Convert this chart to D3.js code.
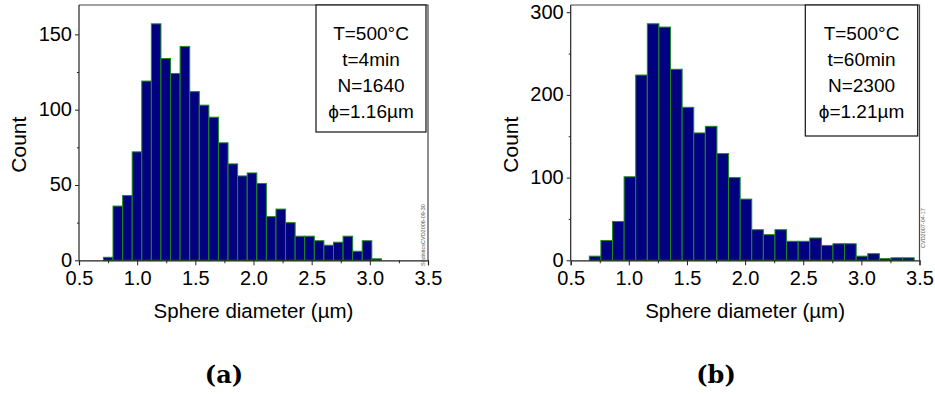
<!DOCTYPE html>
<html>
<head>
<meta charset="utf-8">
<script src="https://cdn.jsdelivr.net/npm/d3@7"></script>
<style>
  html, body { margin: 0; padding: 0; background: #fff; }
  svg { display: block; }
</style>
</head>
<body>
<svg id="chart" width="935" height="394"></svg>
<script>
// ---------- data ----------
const xTickValues = [0.5, 1.0, 1.5, 2.0, 2.5, 3.0, 3.5];
const xMinorTicks = [0.75, 1.25, 1.75, 2.25, 2.75, 3.25];

// panel (a): T=500°C, t=4min
const binStartA = 0.71;
const binWidthA = 0.0824;
const countsA = [2, 36, 43, 72, 119, 157, 134, 124, 142, 112, 103, 95, 78, 64, 56,
                 58, 51, 29, 34, 25, 16, 16, 13, 10, 12, 16, 6, 13, 1];
const yTicksA = [0, 50, 100, 150];
const yMinorA = [25, 75, 125];
const yMaxA = 169.5;
const infoA = ["T=500°C", "t=4min", "N=1640", "ϕ=1.16µm"];
const stampA = "StatisticsCVD2006-09-30";

// panel (b): T=500°C, t=60min
const binStartB = 0.66;
const binWidthB = 0.0998;
const countsB = [5, 24, 47, 101, 224, 286, 282, 231, 185, 154, 162, 129, 100, 74, 37,
                 31, 37, 23, 23, 27, 18, 20, 20, 5, 8, 2, 3, 3];
const yTicksB = [0, 100, 200, 300];
const yMinorB = [50, 150, 250];
const yMaxB = 308.7;
const infoB = ["T=500°C", "t=60min", "N=2300", "ϕ=1.21µm"];
const stampB = "CVD2007-04-17";

const xTitle = "Sphere diameter (µm)";
const yTitle = "Count";
const captions = ["(a)", "(b)"];

// ---------- drawing ----------
const svg = d3.select("#chart");
const axisColor = "#222";
const sans = "Liberation Sans, Arial, sans-serif";

function panel(opt) {
  const g = svg.append("g").style("font-family", sans);
  const x = d3.scaleLinear().domain([0.5, 3.5]).range([opt.left, opt.right]);
  const y = d3.scaleLinear().domain([0, opt.yMax]).range([opt.bottom, opt.top]);

  // bars
  const bins = opt.counts.map((c, i) => ({
    x0: opt.binStart + i * opt.binWidth,
    x1: opt.binStart + (i + 1) * opt.binWidth,
    c
  }));
  g.append("g").selectAll("rect").data(bins).join("rect")
    .attr("x", d => x(d.x0))
    .attr("width", d => x(d.x1) - x(d.x0))
    .attr("y", d => y(d.c))
    .attr("height", d => y(0) - y(d.c))
    .attr("fill", "#000080")
    .attr("stroke", "#1e8a1e")
    .attr("stroke-width", 1);

  // frame (top & right)
  g.append("path")
    .attr("d", `M${opt.left},${opt.top}H${opt.right}V${opt.bottom}`)
    .attr("fill", "none").attr("stroke", "#444").attr("stroke-width", 1.2);

  // x axis
  const xAxis = d3.axisBottom(x).tickValues(xTickValues).tickFormat(d3.format(".1f"))
    .tickSize(5).tickPadding(6);
  const gx = g.append("g").attr("transform", `translate(0,${opt.bottom})`).call(xAxis);
  gx.select(".domain").attr("stroke", axisColor).attr("stroke-width", 1.2);
  gx.selectAll(".tick line").attr("stroke", axisColor);
  gx.selectAll(".tick text").style("font-size", "20px").style("font-family", sans).attr("fill", "#000");
  const xMinor = d3.axisBottom(x).tickValues(xMinorTicks).tickSize(3).tickFormat("");
  const gxm = g.append("g").attr("transform", `translate(0,${opt.bottom})`).call(xMinor);
  gxm.select(".domain").remove();
  gxm.selectAll(".tick line").attr("stroke", axisColor);

  // y axis
  const yAxis = d3.axisLeft(y).tickValues(opt.yTicks).tickSize(4).tickPadding(3);
  const gy = g.append("g").attr("transform", `translate(${opt.left},0)`).call(yAxis);
  gy.select(".domain").attr("stroke", axisColor).attr("stroke-width", 1.2)
    .attr("d", `M0,${opt.top}V${opt.bottom}`);
  gy.selectAll(".tick line").attr("stroke", axisColor);
  gy.selectAll(".tick text").style("font-size", "20px").style("font-family", sans).attr("fill", "#000")
    .attr("dy", "0.3em");
  const yMinor = d3.axisLeft(y).tickValues(opt.yMinor).tickSize(2).tickFormat("");
  const gym = g.append("g").attr("transform", `translate(${opt.left},0)`).call(yMinor);
  gym.select(".domain").remove();
  gym.selectAll(".tick line").attr("stroke", axisColor);

  // axis titles
  g.append("text")
    .attr("x", (opt.left + opt.right) / 2).attr("y", 318)
    .attr("text-anchor", "middle").style("font-size", "20.5px")
    .text(xTitle);
  g.append("text")
    .attr("transform", `translate(${opt.yTitleX},${(opt.top + opt.bottom) / 2 + 12}) rotate(-90)`)
    .attr("text-anchor", "middle").style("font-size", "21px")
    .text(yTitle);

  // info box
  g.append("rect")
    .attr("x", opt.box[0]).attr("y", opt.box[1])
    .attr("width", opt.box[2] - opt.box[0]).attr("height", opt.box[3] - opt.box[1])
    .attr("fill", "#fff").attr("stroke", "#111").attr("stroke-width", 1.2);
  const cx = (opt.box[0] + opt.box[2]) / 2;
  g.append("g").selectAll("text").data(opt.info).join("text")
    .attr("x", cx)
    .attr("y", (d, i) => opt.box[1] + 35 + i * 26)
    .attr("text-anchor", "middle").style("font-size", "19px")
    .text(d => d);

  // stamp
  g.append("text")
    .attr("transform", `translate(${opt.stamp[0]},${opt.stamp[1]}) rotate(-90)`)
    .style("font-size", "5.5px").attr("fill", "#555")
    .text(opt.stampText);

  // caption
  svg.append("text")
    .attr("x", opt.capX).attr("y", 383)
    .attr("text-anchor", "middle")
    .style("font-family", "DejaVu Serif, serif").style("font-weight", "bold").style("font-size", "24px")
    .text(opt.caption);
}

panel({
  left: 79, right: 428, top: 5, bottom: 260.3,
  yMax: yMaxA, yTicks: yTicksA, yMinor: yMinorA,
  counts: countsA, binStart: binStartA, binWidth: binWidthA,
  info: infoA, box: [316, 5, 426, 132],
  yTitleX: 26, stamp: [425, 266], stampText: stampA,
  caption: captions[0], capX: 224
});
panel({
  left: 570.7, right: 919.5, top: 5, bottom: 260.3,
  yMax: yMaxB, yTicks: yTicksB, yMinor: yMinorB,
  counts: countsB, binStart: binStartB, binWidth: binWidthB,
  info: infoB, box: [805.3, 5, 917.7, 136],
  yTitleX: 518, stamp: [925, 248], stampText: stampB,
  caption: captions[1], capX: 716
});
</script>
</body>
</html>
